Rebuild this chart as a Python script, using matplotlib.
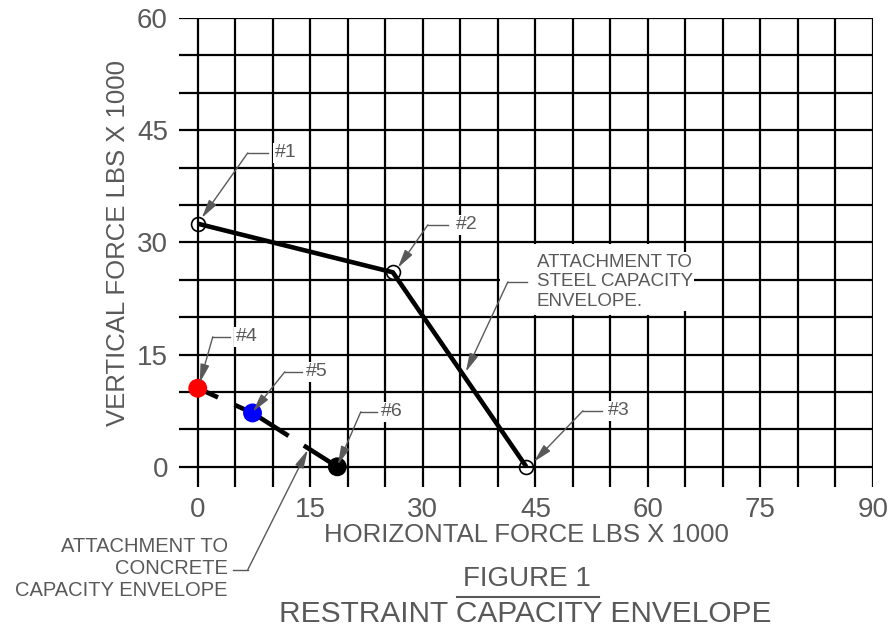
import matplotlib
matplotlib.use("Agg")
import matplotlib.pyplot as plt
from matplotlib.patches import Rectangle
from matplotlib.lines import Line2D

plt.rcParams['font.family'] = ['Liberation Sans', 'DejaVu Sans']
plt.rcParams['lines.scale_dashes'] = False

# steel capacity envelope (#1, #2, #3)
steel_x = [0, 26, 43.8]
steel_y = [32.5, 26, 0]
steel_names = ['#1', '#2', '#3']

# concrete capacity envelope (#4, #5, #6)
conc_x = [0, 7.3, 18.6]
conc_y = [10.5, 7.2, 0]
conc_names = ['#4', '#5', '#6']
conc_colors = ['#ff0000', '#0000ff', '#000000']

x_ticks = [0, 15, 30, 45, 60, 75, 90]
y_ticks = [0, 15, 30, 45, 60]

TXT = '#595959'
W, H = 890, 630


def px(x, y):
    # pixel position -> data coordinates (layout helper)
    return (x - 198) / 7.5, (467 - y) / 7.483


fig = plt.figure(figsize=(8.9, 6.3), dpi=100)
ax = fig.add_axes([179 / W, 1 - 487 / H, (873 - 179) / W, (487 - 18) / H])
ax.set_xlim(-2.5, 90)
ax.set_ylim(-2.7, 60)
for s in ax.spines.values():
    s.set_visible(False)
ax.set_xticks(x_ticks)
ax.set_yticks(y_ticks)
ax.set_xticks(range(0, 91, 5), minor=True)
ax.set_yticks(range(0, 61, 5), minor=True)
ax.tick_params(which='both', length=0)
ax.tick_params(axis='x', pad=7, labelsize=20, labelcolor=TXT)
ax.tick_params(axis='y', pad=8, labelsize=20, labelcolor=TXT)
ax.grid(which='both', color='black', linewidth=1.6)
ax.set_axisbelow(True)

# white area behind the steel note
ax.add_patch(Rectangle((40.25, 20.25), 24.3, 9.5, facecolor='white',
                       edgecolor='none', zorder=2))

ax.plot(steel_x, steel_y, color='black', lw=3.3, zorder=3, solid_capstyle='butt')
ax.plot(steel_x, steel_y, 'o', ms=10, mfc='none', mec='black', mew=1.2, zorder=4)

ax.plot(conc_x, conc_y, color='black', lw=3.3, zorder=3,
        linestyle=(29, (45, 13)), dash_capstyle='butt')
ax.scatter(conc_x, conc_y, s=185, c=conc_colors, zorder=4, linewidths=0)

arrow = dict(arrowstyle='-|>,head_length=0.7,head_width=0.17', color=TXT,
             lw=1.0, mutation_scale=16, shrinkA=0, shrinkB=0)


def leader(tip, elbow, hend, text_xy, text, ha='left', fs=14, ls=1.2):
    tx, ty = px(*tip)
    ex, ey = px(*elbow)
    hx, hy = px(*hend)
    ax.plot([ex, hx], [ey, hy], color=TXT, lw=1.0, zorder=5, clip_on=False)
    ax.annotate('', xy=(tx, ty), xytext=(ex, ey), arrowprops=arrow,
                zorder=5, annotation_clip=False)
    lx, ly = px(*text_xy)
    ax.text(lx, ly, text, ha=ha, va='center', fontsize=fs, color=TXT,
            linespacing=ls, zorder=5, clip_on=False,
            bbox=dict(facecolor='white', edgecolor='none', pad=1))


leader((202, 218), (248, 153), (268, 153), (275, 153), steel_names[0])
leader((398, 268), (428, 225), (448, 225), (456, 225), steel_names[1])
leader((534, 462), (583, 411), (602, 411), (608, 411), steel_names[2])
leader((200, 383), (213, 337), (230, 337), (236, 337), conc_names[0])
leader((253, 412), (285, 372), (302, 372), (306, 372), conc_names[1])
leader((338, 465), (361, 412), (377, 412), (381, 412), conc_names[2])
leader((466, 372), (508, 282), (527, 282), (537, 282),
       'ATTACHMENT TO\nSTEEL CAPACITY\nENVELOPE.', fs=13.5)
leader((308, 450), (248, 570), (233, 570), (228, 569),
       'ATTACHMENT TO\nCONCRETE\nCAPACITY ENVELOPE', ha='right', fs=14.5)

fig.text(526 / W, 1 - 535 / H, 'HORIZONTAL FORCE LBS X 1000', ha='center',
         va='center', fontsize=18.5, color=TXT)
fig.text(118 / W, 1 - 243 / H, 'VERTICAL FORCE LBS X 1000', ha='center',
         va='center', rotation=90, fontsize=18.5, color=TXT)
fig.text(527 / W, 1 - 579 / H, 'FIGURE 1', ha='center', va='center',
         fontsize=20, color=TXT)
fig.add_artist(Line2D([457 / W, 599 / W], [1 - 597 / H, 1 - 597 / H],
                      color=TXT, lw=1.5))
fig.text(525 / W, 1 - 614 / H, 'RESTRAINT CAPACITY ENVELOPE', ha='center',
         va='center', fontsize=21.5, color=TXT)

fig.savefig('out.png', dpi=100)
